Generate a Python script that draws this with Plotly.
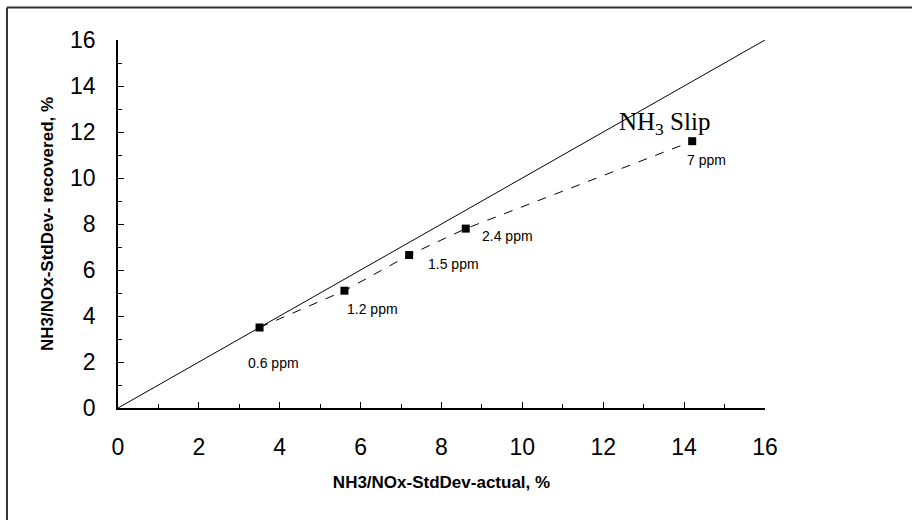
import plotly.graph_objects as go

# Data
actual = [3.5, 5.6, 7.2, 8.6, 14.2]
recovered = [3.5, 5.1, 6.65, 7.8, 11.6]
slip_labels = ["0.6 ppm", "1.2 ppm", "1.5 ppm", "2.4 ppm", "7 ppm"]
identity_x = [0, 16]
identity_y = [0, 16]
tick_vals = [0, 2, 4, 6, 8, 10, 12, 14, 16]

# label offsets in pixels (style)
label_dx = [14, 28, 44, 42, 14]
label_dy = [-35, -18, -9, -7, -19]

fig = go.Figure()
fig.add_trace(go.Scatter(x=identity_x, y=identity_y, mode="lines",
                         line=dict(color="black", width=1), showlegend=False,
                         hoverinfo="skip"))
fig.add_trace(go.Scatter(x=actual, y=recovered, mode="lines+markers",
                         line=dict(color="black", width=1, dash="dash"),
                         marker=dict(symbol="square", size=8, color="black"),
                         showlegend=False))

for x, y, t, dx, dy in zip(actual, recovered, slip_labels, label_dx, label_dy):
    fig.add_annotation(x=x, y=y, text=t, showarrow=False, xshift=dx, yshift=dy,
                       font=dict(family="Liberation Sans, Arial", size=14, color="black"))

fig.add_annotation(x=actual[-1], y=recovered[-1], text="NH<sub>3</sub> Slip",
                   showarrow=False, xshift=-28, yshift=18,
                   font=dict(family="Liberation Serif, Times New Roman", size=25, color="black"))

axis_common = dict(range=[0, 16], tickvals=tick_vals, ticks="inside", ticklen=6,
                   tickwidth=1, tickcolor="black", showline=True, linecolor="black",
                   linewidth=1.5, showgrid=False, zeroline=False,
                   tickfont=dict(family="Liberation Sans, Arial", size=23, color="black"),
                   minor=dict(dtick=1, ticks="inside", ticklen=4, tickcolor="black", tickwidth=1))

fig.update_xaxes(**axis_common, ticklabelstandoff=18,
                 title=dict(text="<b>NH3/NOx-StdDev-actual, %</b>", standoff=17,
                            font=dict(family="Liberation Sans, Arial", size=17, color="black")))
fig.update_yaxes(**axis_common, ticklabelstandoff=16,
                 title=dict(text="<b>NH3/NOx-StdDev- recovered, %</b>", standoff=12,
                            font=dict(family="Liberation Sans, Arial", size=17, color="black")))

# frame lines (top and left)
fig.add_shape(type="line", xref="paper", yref="paper", x0=-0.1716, x1=1.25,
              y0=1.0883, y1=1.0883, line=dict(color="#333333", width=2))
fig.add_shape(type="line", xref="paper", yref="paper", x0=-0.1716, x1=-0.1716,
              y0=1.0883, y1=-0.32, line=dict(color="#333333", width=2))

fig.update_layout(width=912, height=520, margin=dict(l=118, r=147, t=40, b=112),
                  plot_bgcolor="white", paper_bgcolor="white")

fig.write_html("out.html", config={"displayModeBar": False},
               post_script="document.body.style.margin='0';document.body.style.overflow='hidden';")
